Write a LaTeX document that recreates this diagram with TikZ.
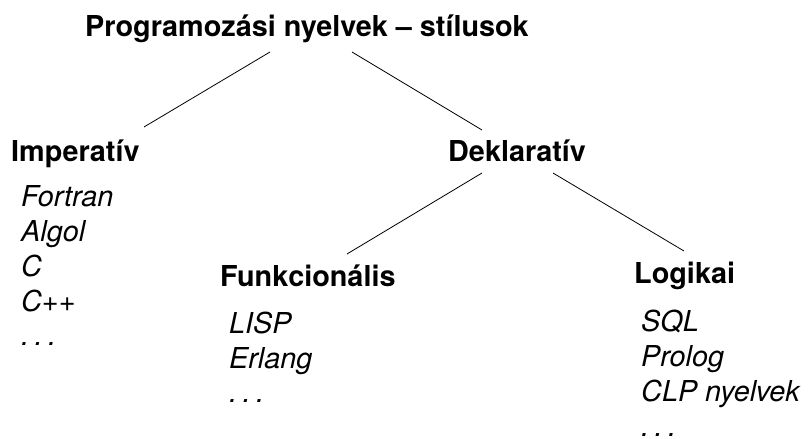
\documentclass[tikz,border=0pt]{standalone}
\usepackage{fontspec}
\setmainfont{TeX Gyre Heros}
\newcommand\mydots{.\kern0.19em.\kern0.19em.}
\begin{document}
\begin{tikzpicture}[x=1pt,y=-1pt,
  head/.style={anchor=base west,inner sep=0pt,font=\fontsize{28.8}{34}\selectfont\bfseries},
  item/.style={anchor=base west,inner sep=0pt,font=\fontsize{28.8}{34}\selectfont\itshape},
  link/.style={line width=0.8pt,black}]
\useasboundingbox (0,0) rectangle (809,439);
% headings
\node[head] (title) at (85,36) {Programozási nyelvek – stílusok};
\node[head] (imp) at (11,161) {Imperatív};
\node[head] (dek) at (448,161) {Deklaratív};
\node[head] (fun) at (220,286) {Funkcionális};
\node[head] (log) at (634,283) {Logikai};
% lists
\node[item] (imp1) at (21,206) {Fortran};
\node[item] (imp2) at (21,241) {Algol};
\node[item] (imp3) at (21,276) {C};
\node[item] (imp4) at (21,311) {C++};
\node[item] (imp5) at (21,345) {\mydots};
\node[item] (fun1) at (229,333) {LISP};
\node[item] (fun2) at (229,368) {Erlang};
\node[item] (fun3) at (229,402) {\mydots};
\node[item] (log1) at (641,331) {SQL};
\node[item] (log2) at (641,366) {Prolog};
\node[item] (log3) at (641,401) {CLP nyelvek};
\node[item] (log4) at (641,436) {\mydots};
% connectors
\draw[link] ([shift={(185,16)}]title.base west) -- ([shift={(133,-34)}]imp.base west);
\draw[link] ([shift={(267,16)}]title.base west) -- ([shift={(34,-31)}]dek.base west);
\draw[link] ([shift={(34,12)}]dek.base west) -- ([shift={(127,-32)}]fun.base west);
\draw[link] ([shift={(105,12)}]dek.base west) -- ([shift={(50,-32)}]log.base west);
\end{tikzpicture}
\end{document}
